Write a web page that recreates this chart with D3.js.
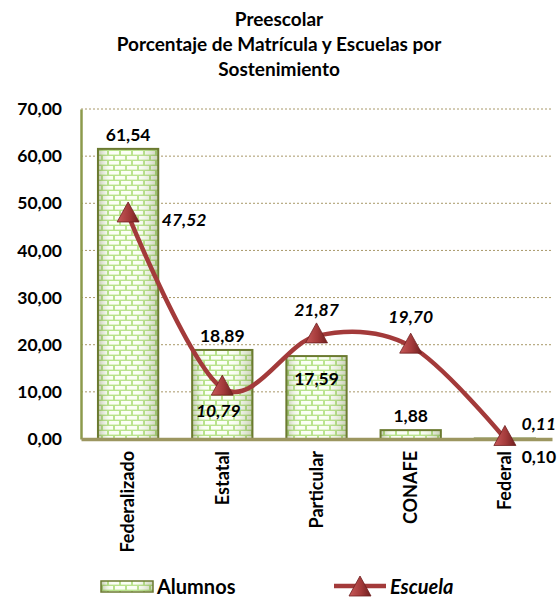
<!DOCTYPE html>
<html>
<head>
<meta charset="utf-8">
<script src="https://cdn.jsdelivr.net/npm/d3@7"></script>
<style>
  body { margin: 0; background: #fff; }
  text { font-family: Lato, "Open Sans", sans-serif; font-weight: bold; fill: #000; }
</style>
</head>
<body>
<svg width="560" height="600"></svg>
<script>
var categorias = ["Federalizado", "Estatal", "Particular", "CONAFE", "Federal"];
var alumnos = [61.54, 18.89, 17.59, 1.88, 0.10];
var escuelas = [47.52, 10.79, 21.87, 19.70, 0.11];
var yTicks = [0, 10, 20, 30, 40, 50, 60, 70];
var titulo = ["Preescolar", "Porcentaje de Matrícula y Escuelas por", "Sostenimiento"];

var svg = d3.select("svg");
var fmt = function(v) { return d3.format(".2f")(v).replace(".", ","); };

var x = d3.scaleBand().domain(categorias).range([81, 552])
  .paddingInner(0.36).paddingOuter(0.18);
var y = d3.scaleLinear().domain([0, 70]).range([439, 109]);

var defs = svg.append("defs");
// ladrillos
var pat = defs.append("pattern").attr("id", "brick")
  .attr("patternUnits", "userSpaceOnUse").attr("width", 12).attr("height", 10);
pat.append("rect").attr("width", 12).attr("height", 10).attr("fill", "#b4e184");
pat.append("rect").attr("x", 1).attr("y", 1).attr("width", 10).attr("height", 3.6).attr("fill", "#fbfff5");
pat.append("rect").attr("x", -5).attr("y", 6).attr("width", 10).attr("height", 3.6).attr("fill", "#fbfff5");
pat.append("rect").attr("x", 7).attr("y", 6).attr("width", 10).attr("height", 3.6).attr("fill", "#fbfff5");

var shade = defs.append("linearGradient").attr("id", "shade");
shade.append("stop").attr("offset", "0%").attr("stop-color", "#4f5f20").attr("stop-opacity", 0.35);
shade.append("stop").attr("offset", "22%").attr("stop-color", "#fff").attr("stop-opacity", 0.05);
shade.append("stop").attr("offset", "65%").attr("stop-color", "#fff").attr("stop-opacity", 0.1);
shade.append("stop").attr("offset", "100%").attr("stop-color", "#4f5f20").attr("stop-opacity", 0.3);

var tri = defs.append("linearGradient").attr("id", "tri").attr("x1", 0).attr("x2", 1);
tri.append("stop").attr("offset", "0%").attr("stop-color", "#c85a5a");
tri.append("stop").attr("offset", "55%").attr("stop-color", "#a33a3a");
tri.append("stop").attr("offset", "100%").attr("stop-color", "#6e1f1f");

// titulo
svg.append("g").selectAll("text").data(titulo).enter().append("text")
  .attr("x", 279).attr("y", function(d, i) { return 26 + i * 25; })
  .attr("text-anchor", "middle").style("font-size", "19px")
  .text(function(d) { return d; });

// lineas de division
svg.append("g").selectAll("line").data(yTicks.slice(1)).enter().append("line")
  .attr("x1", 81).attr("x2", 552)
  .attr("y1", function(d) { return y(d); }).attr("y2", function(d) { return y(d); })
  .attr("stroke", "#a89868").attr("stroke-width", 1).attr("stroke-dasharray", "2,2");

// eje y
var yAxis = svg.append("g").attr("transform", "translate(81,0)")
  .call(d3.axisLeft(y).tickValues(yTicks).tickFormat(fmt).tickSize(0).tickPadding(19));
yAxis.select(".domain").attr("stroke", "#8c9a4c").attr("stroke-width", 2.5);
yAxis.selectAll("text").style("font-size", "17.5px").attr("font-family", null);

// barras
var bars = svg.append("g").selectAll("g").data(alumnos).enter().append("g");
bars.append("rect")
  .attr("x", function(d, i) { return x(categorias[i]); })
  .attr("y", function(d) { return y(d); })
  .attr("width", x.bandwidth())
  .attr("height", function(d) { return y(0) - y(d); })
  .attr("fill", "url(#brick)");
bars.append("rect")
  .attr("x", function(d, i) { return x(categorias[i]); })
  .attr("y", function(d) { return y(d); })
  .attr("width", x.bandwidth())
  .attr("height", function(d) { return y(0) - y(d); })
  .attr("fill", "url(#shade)")
  .attr("stroke", "#6b7a30").attr("stroke-width", 2);

// eje x
var xAxis = svg.append("g").attr("transform", "translate(0," + y(0) + ")")
  .call(d3.axisBottom(x).tickSize(0).tickSizeOuter(0).tickPadding(0));
xAxis.select(".domain").attr("stroke", "#9c9660").attr("stroke-width", 3.5);
xAxis.selectAll("text")
  .attr("transform", "rotate(-90)")
  .attr("text-anchor", "end")
  .attr("x", -12).attr("y", 0).attr("dy", "0.35em")
  .attr("font-family", null)
  .style("font-size", "18px");

// etiquetas de barras
svg.append("g").selectAll("text").data(alumnos).enter().append("text")
  .attr("text-anchor", "middle").style("font-size", "17.5px")
  .attr("x", function(d, i) {
    var c = x(categorias[i]) + x.bandwidth() / 2;
    return i === 4 ? c + 34 : c;
  })
  .attr("y", function(d, i) {
    if (i === 2) return y(d) + 29;
    if (i === 4) return y(d) + 24;
    return y(d) - 8;
  })
  .text(fmt);

// linea
var cx = function(d, i) { return x(categorias[i]) + x.bandwidth() / 2; };
var line = d3.line().x(cx).y(function(d) { return y(d); }).curve(d3.curveCardinal.tension(0));
svg.append("path").datum(escuelas).attr("d", line)
  .attr("fill", "none").attr("stroke", "#a33a3a").attr("stroke-width", 4.5);

var triPath = "M0,-12L11,8L-11,8Z";
svg.append("g").selectAll("path").data(escuelas).enter().append("path")
  .attr("d", triPath)
  .attr("transform", function(d, i) { return "translate(" + cx(d, i) + "," + (y(d) - 1) + ")"; })
  .attr("fill", "url(#tri)").attr("stroke", "#6e1f1f").attr("stroke-width", 0.8);

// etiquetas de linea
var lineDx = [56, -4, 0, 0, 34];
var lineDy = [11, 29, -20, -23, -8];
svg.append("g").selectAll("text").data(escuelas).enter().append("text")
  .attr("text-anchor", "middle").style("font-size", "17.5px").style("font-style", "italic")
  .attr("x", function(d, i) { return cx(d, i) + lineDx[i]; })
  .attr("y", function(d, i) { return y(d) + lineDy[i]; })
  .text(fmt);

// leyenda
var lg = svg.append("g");
lg.append("rect").attr("x", 101).attr("y", 581).attr("width", 52).attr("height", 11)
  .attr("fill", "url(#brick)");
lg.append("rect").attr("x", 101).attr("y", 581).attr("width", 52).attr("height", 11)
  .attr("fill", "url(#shade)").attr("stroke", "#6b7a30").attr("stroke-width", 1.5);
lg.append("text").attr("x", 157).attr("y", 594).style("font-size", "20px").text("Alumnos");
lg.append("line").attr("x1", 334).attr("x2", 386).attr("y1", 586).attr("y2", 586)
  .attr("stroke", "#a33a3a").attr("stroke-width", 4.5);
lg.append("path").attr("d", triPath).attr("transform", "translate(360,588)")
  .attr("fill", "url(#tri)").attr("stroke", "#6e1f1f").attr("stroke-width", 0.8);
lg.append("text").attr("x", 390).attr("y", 594).style("font-size", "20px")
  .style("font-style", "italic").text("Escuela");
</script>
</body>
</html>
